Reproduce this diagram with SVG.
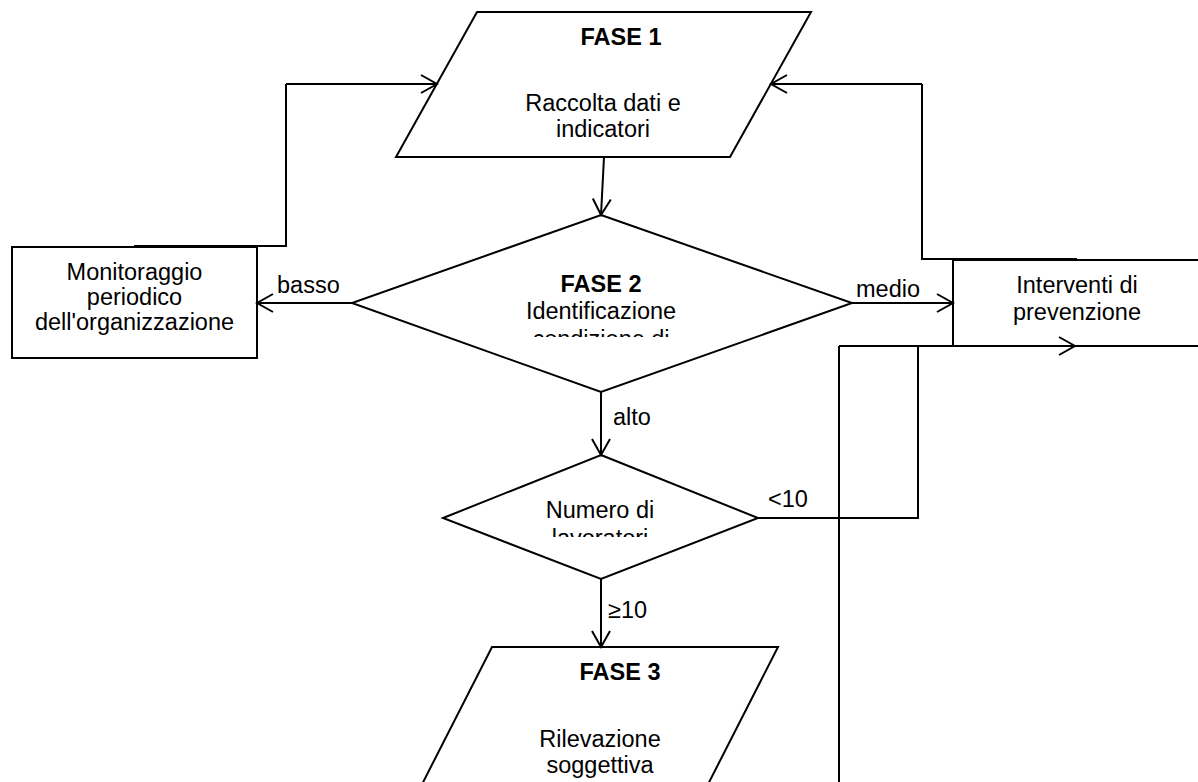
<svg xmlns="http://www.w3.org/2000/svg" width="1198" height="782" viewBox="0 0 1198 782">
<style>
.shape{fill:#fff;stroke:#000;stroke-width:2}
.conn{fill:none;stroke:#000;stroke-width:2;marker-end:url(#arr)}
.line{fill:none;stroke:#000;stroke-width:2}
text{font-family:"Liberation Sans",Arial,sans-serif;font-size:23.5px;fill:#000}
.c{text-anchor:middle}
.b{font-weight:bold}
</style>
<defs>
<marker id="arr" markerUnits="userSpaceOnUse" viewBox="-18 -11 20 22" markerWidth="20" markerHeight="22" refX="0" refY="0" orient="auto">
<path d="M-16,-9 L0,0 L-16,9" fill="none" stroke="#000" stroke-width="2"/>
</marker>
<clipPath id="clip2"><rect x="352" y="215" width="500" height="122"/></clipPath>
<clipPath id="clipN"><rect x="443" y="455" width="315" height="82"/></clipPath>
</defs>
<rect width="1198" height="782" fill="#fff"/>
<g id="fase1">
<polygon class="shape" points="477,12 811,12 730,157 396,157"/>
<text class="c b" x="621" y="45">FASE 1</text>
<text class="c" x="603" y="111">Raccolta dati e</text>
<text class="c" x="603" y="137">indicatori</text>
</g>
<g id="fase2">
<polygon class="shape" points="601,215 852,303 601,392 352,303"/>
<g clip-path="url(#clip2)">
<text class="c b" x="601" y="292">FASE 2</text>
<text class="c" x="601" y="319">Identificazione</text>
<text class="c" x="601" y="347">condizione di</text>
</g>
</g>
<g id="monitoraggio">
<rect class="shape" x="12" y="247" width="245" height="111"/>
<text class="c" x="134.5" y="280">Monitoraggio</text>
<text class="c" x="134.5" y="305">periodico</text>
<text class="c" x="134.5" y="330">dell'organizzazione</text>
</g>
<g id="interventi">
<rect class="shape" x="953" y="260" width="260" height="86"/>
<text class="c" x="1077" y="293">Interventi di</text>
<text class="c" x="1077" y="320">prevenzione</text>
</g>
<g id="numero">
<polygon class="shape" points="601,455 758,518 601,579 443,518"/>
<g clip-path="url(#clipN)">
<text class="c" x="600" y="518">Numero di</text>
<text class="c" x="600" y="546">lavoratori</text>
</g>
</g>
<g id="fase3">
<polygon class="shape" points="492,647 778,647 700,800 414,800"/>
<text class="c b" x="620" y="680">FASE 3</text>
<text class="c" x="600" y="747">Rilevazione</text>
<text class="c" x="600" y="773">soggettiva</text>
</g>
<g id="connectors">
<path class="line" d="M134,246 L286,246 L286,84"/>
<path class="conn" d="M286,84 L437,84"/>
<path class="line" d="M1077,259 L922,259 L922,84"/>
<path class="conn" d="M922,84 L771,84"/>
<path class="conn" d="M604,157 L601,215"/>
<path class="conn" d="M352,303 L257,303"/>
<path class="conn" d="M852,303 L953,303"/>
<path class="conn" d="M601,392 L601,455"/>
<path class="conn" d="M601,579 L601,647"/>
<path class="line" d="M758,518 L918,518 L918,346"/>
<path class="line" d="M839,800 L839,346"/>
<path class="conn" d="M839,346 L1075,346"/>
<text x="277" y="293">basso</text>
<text x="856" y="297">medio</text>
<text x="613" y="425">alto</text>
<text x="768" y="507">&lt;10</text>
<text x="608" y="618">≥10</text>
</g>
</svg>
